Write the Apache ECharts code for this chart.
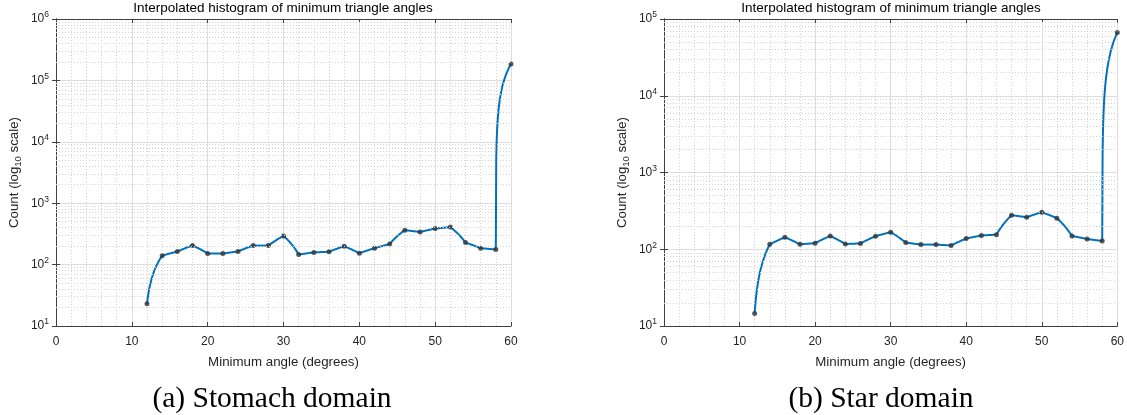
<!DOCTYPE html>
<html>
<head>
<meta charset="utf-8">
<script src="https://cdn.jsdelivr.net/npm/echarts@6/dist/echarts.min.js"></script>
<style>
html,body{margin:0;padding:0;background:#fff}
#chart{width:1127px;height:415px}
</style>
</head>
<body>
<div id="chart"></div>
<script>
//angle bins in degrees, same for both domains
const angles = [12,14,16,18,20,22,24,26,28,30,32,34,36,38,40,42,44,46,48,50,52,54,56,58,60];
//counts
const stomachCounts = [23,140,163,205,152,151,164,204,204,293,146,158,162,199,153,185,216,364,340,386,408,228,185,176,185000];
const starCounts = [14.6,116,143,116,120,149,117,119,148,167,122,115,115,112,138,151,155,278,261,304,254,149,136,128,66900];
const xTicks = [0,10,20,30,40,50,60];
const stomachDecades = [10,100,1000,10000,100000];
const starDecades = [10,100,1000,10000];
const minorSteps = [2,3,4,5,6,7,8,9];

const titleText = 'Interpolated histogram of minimum triangle angles';
const axisColor = '#404040';
const textColor = '#262626';
const font = '"Liberation Sans", Arial, sans-serif';

//dotted minor grid on the log axis (2..9 of each decade)
function minorLines(decades) {
	const out = [];
	decades.forEach(function (d) {
		minorSteps.forEach(function (m) { out.push({yAxis: d * m}); });
	});
	return out;
}

//each data item draws the straight segment to the next bin, taken in count space
function segment(counts) {
	return function (params, api) {
		const i = params.dataIndex;
		const pts = [];
		for (let k = 0; k <= 40; k++) {
			const t = k / 40;
			pts.push(api.coord([
				angles[i] + t * (angles[i + 1] - angles[i]),
				counts[i] + t * (counts[i + 1] - counts[i])
			]));
		}
		return {type: 'polyline', shape: {points: pts},
			style: {stroke: '#0072BD', lineWidth: 2, fill: null, lineJoin: 'round'}};
	};
}

function xAxes(gi) {
	return [{
		type: 'value', gridIndex: gi, min: xTicks[0], max: xTicks[xTicks.length - 1], interval: 10,
		position: 'bottom',
		name: 'Minimum angle (degrees)', nameLocation: 'middle', nameGap: 30,
		nameTextStyle: {fontFamily: font, fontSize: 13.3, color: textColor},
		axisLine: {lineStyle: {color: axisColor, width: 1}},
		axisTick: {inside: true, length: 4, lineStyle: {color: axisColor}},
		axisLabel: {fontFamily: font, fontSize: 12, color: textColor, margin: 10},
		splitLine: {show: true, lineStyle: {color: '#dedede', width: 1}},
		minorTick: {show: false, splitNumber: 5},
		minorSplitLine: {show: true, lineStyle: {color: '#d2d2d2', type: [1, 2], width: 1}}
	}, {
		type: 'value', gridIndex: gi, min: 0, max: 60, interval: 10, position: 'top',
		axisLine: {show: true, lineStyle: {color: axisColor, width: 1}},
		axisTick: {inside: true, length: 4, lineStyle: {color: axisColor}},
		axisLabel: {show: false}, splitLine: {show: false}
	}];
}

function yAxes(gi, max) {
	return [{
		type: 'log', logBase: 10, gridIndex: gi, min: 10, max: max, position: 'left',
		name: 'Count (log{sub|10} scale)', nameLocation: 'middle', nameGap: 33,
		nameTextStyle: {fontFamily: font, fontSize: 13.3, color: textColor,
			rich: {sub: {fontFamily: font, fontSize: 9.5, color: textColor, verticalAlign: 'bottom', padding: [8, 0, 0, 0]}}},
		axisLine: {show: true, lineStyle: {color: axisColor, width: 1}},
		axisTick: {inside: true, length: 4, lineStyle: {color: axisColor}},
		axisLabel: {
			fontFamily: font, fontSize: 12, color: textColor, margin: 7,
			formatter: function (v) { return '10{sup|' + Math.round(Math.log10(v)) + '}'; },
			rich: {sup: {fontFamily: font, fontSize: 8.5, color: textColor, verticalAlign: 'top', padding: [0, 0, 8, 0]}}
		},
		splitLine: {show: true, lineStyle: {color: '#dedede', width: 1}}
	}, {
		type: 'log', logBase: 10, gridIndex: gi, min: 10, max: max, position: 'right',
		axisLine: {show: true, lineStyle: {color: axisColor, width: 1}},
		axisTick: {inside: true, length: 4, lineStyle: {color: axisColor}},
		axisLabel: {show: false}, splitLine: {show: false}
	}];
}

function panelSeries(gi, counts, decades) {
	const xi = gi * 2, yi = gi * 2;
	return [{
		type: 'line', xAxisIndex: xi, yAxisIndex: yi, data: [], silent: true, z: 1,
		markLine: {silent: true, symbol: 'none', label: {show: false}, animation: false,
			lineStyle: {color: '#d2d2d2', type: [1, 2], width: 1}, data: minorLines(decades)}
	}, {
		type: 'custom', xAxisIndex: xi, yAxisIndex: yi, z: 3, silent: true,
		renderItem: segment(counts),
		data: angles.slice(0, -1).map(function (a, i) { return [a, counts[i]]; })
	}, {
		type: 'scatter', xAxisIndex: xi, yAxisIndex: yi, z: 4, silent: true,
		symbol: 'circle', symbolSize: 5, itemStyle: {color: '#333333'},
		data: angles.map(function (a, i) { return [a, counts[i]]; })
	}];
}

const titleStyle = {fontFamily: font, fontSize: 13.5, fontWeight: 'normal', color: '#000'};
const captionFont = '29.5px "Liberation Serif", "DejaVu Serif", serif';

const chart = echarts.init(document.getElementById('chart'), null, {renderer: 'canvas'});
chart.setOption({
	animation: false,
	backgroundColor: '#ffffff',
	title: [
		{text: titleText, left: 283, top: 1, padding: 0, textAlign: 'center', textStyle: titleStyle},
		{text: titleText, left: 891, top: 1, padding: 0, textAlign: 'center', textStyle: titleStyle}
	],
	grid: [
		{left: 56, top: 19, width: 455, height: 307},
		{left: 664, top: 19, width: 454, height: 307}
	],
	xAxis: xAxes(0).concat(xAxes(1)),
	yAxis: yAxes(0, 1000000).concat(yAxes(1, 100000)),
	series: panelSeries(0, stomachCounts, stomachDecades).concat(panelSeries(1, starCounts, starDecades)),
	graphic: [
		{type: 'text', x: 272, y: 399, style: {text: '(a) Stomach domain', fill: '#000',
			font: captionFont, align: 'center', verticalAlign: 'middle'}},
		{type: 'text', x: 881, y: 399, style: {text: '(b) Star domain', fill: '#000',
			font: captionFont, align: 'center', verticalAlign: 'middle'}}
	]
});
</script>
</body>
</html>
